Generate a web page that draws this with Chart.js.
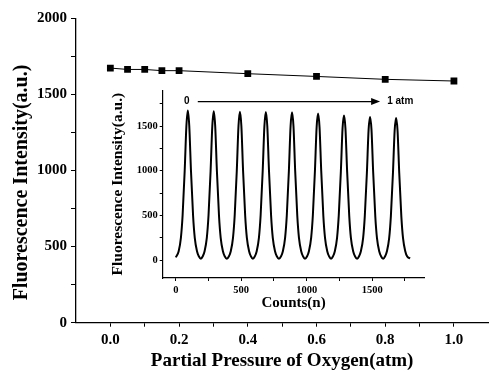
<!DOCTYPE html>
<html>
<head>
<meta charset="utf-8">
<script src="https://cdn.jsdelivr.net/npm/chart.js@4.4.0/dist/chart.umd.min.js"></script>
<style>
  html, body { margin: 0; padding: 0; background: #fff; }
  #wrap { position: relative; width: 489px; height: 372px; }
  #mainChart { position: absolute; left: 0; top: 0; }
  #insetChart { position: absolute; left: 100px; top: 82px; }
</style>
</head>
<body>
<div id="wrap">
  <canvas id="mainChart" width="489" height="372"></canvas>
  <canvas id="insetChart" width="330" height="230"></canvas>
</div>
<script>
// Main plot: intensity vs partial pressure of oxygen
const pressure = [0, 0.05, 0.1, 0.15, 0.2, 0.4, 0.6, 0.8, 1.0];
const intensity = [1673, 1664, 1664, 1656, 1656, 1636, 1618, 1599, 1588];

// Inset: intensity trace vs counts
const counts = [
  0, 22, 39, 52, 68, 81, 92, 103, 116, 132, 145, 162, 177, 192,
  205, 220, 237, 250, 266, 279, 290, 301, 314, 330, 343, 360, 375, 390,
  405, 420, 437, 450, 466, 479, 490, 501, 514, 530, 543, 560, 575, 589,
  603, 618, 635, 648, 664, 677, 688, 699, 712, 728, 741, 758, 773, 788,
  803, 818, 835, 848, 864, 877, 888, 899, 912, 928, 941, 958, 973, 987,
  1002, 1017, 1034, 1047, 1063, 1076, 1087, 1098, 1111, 1127, 1140, 1157, 1172, 1186,
  1200, 1215, 1232, 1245, 1261, 1274, 1285, 1296, 1309, 1325, 1338, 1355, 1370, 1385,
  1399, 1414, 1431, 1444, 1460, 1473, 1484, 1495, 1508, 1524, 1537, 1554, 1569, 1584,
  1598, 1613, 1630, 1643, 1659, 1672, 1683, 1694, 1707, 1723, 1736, 1753, 1768, 1790
];
const countIntensity = [
  30, 100, 250, 500, 1000, 1500, 1675, 1500, 1000, 500, 250, 100, 40, 15,
  40, 100, 250, 500, 1000, 1500, 1665, 1500, 1000, 500, 250, 100, 40, 15,
  40, 100, 250, 500, 1000, 1500, 1660, 1500, 1000, 500, 250, 100, 40, 15,
  40, 100, 250, 500, 1000, 1500, 1658, 1500, 1000, 500, 250, 100, 40, 15,
  40, 100, 250, 500, 1000, 1500, 1655, 1500, 1000, 500, 250, 100, 40, 15,
  40, 100, 250, 500, 1000, 1490, 1640, 1490, 1000, 500, 250, 100, 40, 15,
  40, 100, 250, 500, 990, 1475, 1618, 1475, 990, 495, 245, 100, 40, 15,
  40, 100, 245, 495, 980, 1460, 1602, 1460, 980, 490, 245, 100, 40, 15,
  40, 100, 245, 490, 975, 1450, 1590, 1450, 975, 490, 245, 100, 40, 20
];

// tick positions (major + minor)
const mainXTicks = [0, 0.1, 0.2, 0.3, 0.4, 0.5, 0.6, 0.7, 0.8, 0.9, 1.0];
const mainYTicks = [0, 250, 500, 750, 1000, 1250, 1500, 1750, 2000];
const insetXTicks = [0, 250, 500, 750, 1000, 1250, 1500, 1750];
const insetYTicks = [0, 250, 500, 750, 1000, 1250, 1500, 1750];

const serif = "'Liberation Serif', 'Times New Roman', serif";
const sans = "'Liberation Sans', Arial, sans-serif";

// main y title drawn by hand so it sits where the original has it
const mainTitlePlugin = {
    id: 'mainTitle',
    afterDraw(chart) {
        const ctx = chart.ctx;
        ctx.save();
        ctx.translate(21.5, 182.5);
        ctx.rotate(-Math.PI / 2);
        ctx.font = 'bold 20px ' + serif;
        ctx.fillStyle = '#000';
        ctx.textAlign = 'center';
        ctx.textBaseline = 'middle';
        ctx.fillText('Fluorescence Intensity(a.u.)', 0, 0);
        ctx.restore();
    }
};

// arrow "0 -> 1 atm" in the inset
const arrowPlugin = {
    id: 'arrow',
    afterDraw(chart) {
        const ctx = chart.ctx;
        const xs = chart.scales.x, ys = chart.scales.y;
        const y = ys.getPixelForValue(1774);
        const x0 = xs.getPixelForValue(168);
        const x1 = xs.getPixelForValue(1561);
        ctx.save();
        ctx.strokeStyle = '#000';
        ctx.fillStyle = '#000';
        ctx.lineWidth = 1.3;
        ctx.beginPath();
        ctx.moveTo(x0, y);
        ctx.lineTo(x1 - 6, y);
        ctx.stroke();
        ctx.beginPath();
        ctx.moveTo(x1, y);
        ctx.lineTo(x1 - 9, y - 3.5);
        ctx.lineTo(x1 - 9, y + 3.5);
        ctx.closePath();
        ctx.fill();
        ctx.font = 'bold 10px ' + sans;
        ctx.textBaseline = 'middle';
        ctx.textAlign = 'center';
        ctx.fillText('0', xs.getPixelForValue(84), y);
        ctx.textAlign = 'left';
        ctx.fillText('1 atm', xs.getPixelForValue(1615), y);
        ctx.restore();
    }
};

function axisGrid(len) {
    return { drawOnChartArea: false, drawTicks: true, tickLength: len, color: '#000', tickColor: '#000', tickWidth: 1 };
}

new Chart(document.getElementById('mainChart'), {
    type: 'scatter',
    data: {
        datasets: [{
            data: pressure.map((p, i) => ({ x: p, y: intensity[i] })),
            showLine: true,
            borderColor: '#000',
            borderWidth: 1,
            backgroundColor: '#000',
            pointStyle: 'rect',
            pointRadius: 4.8,
            pointBorderWidth: 0
        }]
    },
    options: {
        responsive: false,
        animation: false,
        layout: { padding: { top: 18.3, right: 0.7, left: 0, bottom: 0 }, autoPadding: false },
        plugins: { legend: { display: false }, tooltip: { enabled: false } },
        scales: {
            x: {
                type: 'linear', min: -0.1, max: 1.1,
                afterBuildTicks: s => { s.ticks = mainXTicks.map(v => ({ value: v })); },
                afterFit: s => { s.height = 49.3; },
                border: { color: '#000', width: 1.3 },
                grid: axisGrid(4),
                ticks: {
                    color: '#000', padding: 4, maxRotation: 0, autoSkip: false,
                    font: { family: serif, size: 15, weight: 'bold' },
                    callback: (v, i) => (i % 2 === 0 ? v.toFixed(1) : '')
                },
                title: {
                    display: true, text: 'Partial Pressure of Oxygen(atm)', color: '#000',
                    font: { family: serif, size: 19, weight: 'bold' }, padding: { top: 0, bottom: 0 }
                }
            },
            y: {
                min: 0, max: 2000,
                afterBuildTicks: s => { s.ticks = mainYTicks.map(v => ({ value: v })); },
                afterFit: s => { s.width = 76; },
                border: { color: '#000', width: 1.3 },
                grid: axisGrid(5),
                ticks: {
                    color: '#000', padding: 4, autoSkip: false,
                    font: { family: serif, size: 15, weight: 'bold' },
                    callback: v => (v % 500 === 0 ? String(v) : '')
                }
            }
        }
    },
    plugins: [mainTitlePlugin]
});

new Chart(document.getElementById('insetChart'), {
    type: 'scatter',
    data: {
        datasets: [{
            data: counts.map((c, i) => ({ x: c, y: countIntensity[i] })),
            showLine: true,
            borderColor: '#000',
            borderWidth: 2,
            pointRadius: 0,
            cubicInterpolationMode: 'monotone'
        }]
    },
    options: {
        responsive: false,
        animation: false,
        layout: { padding: { top: 8, right: 5.5, left: 0, bottom: 0 }, autoPadding: false },
        plugins: { legend: { display: false }, tooltip: { enabled: false } },
        scales: {
            x: {
                type: 'linear', min: -100, max: 1900,
                afterBuildTicks: s => { s.ticks = insetXTicks.map(v => ({ value: v })); },
                afterFit: s => { s.height = 34; },
                border: { color: '#000', width: 1.2 },
                grid: axisGrid(3),
                ticks: {
                    color: '#000', padding: 3, maxRotation: 0, autoSkip: false,
                    font: { family: serif, size: 10.5, weight: 'bold' },
                    callback: v => (v % 500 === 0 ? String(v) : '')
                },
                title: {
                    display: true, text: 'Counts(n)', color: '#000',
                    font: { family: serif, size: 15, weight: 'bold' }, padding: { top: 0, bottom: 0 }
                }
            },
            y: {
                min: -200, max: 1900,
                afterBuildTicks: s => { s.ticks = insetYTicks.map(v => ({ value: v })); },
                afterFit: s => { s.width = 62.7; },
                border: { color: '#000', width: 1.2 },
                grid: axisGrid(3),
                ticks: {
                    color: '#000', padding: 2, autoSkip: false,
                    font: { family: serif, size: 10.5, weight: 'bold' },
                    callback: v => (v % 500 === 0 && v <= 1500 ? String(v) : '')
                },
                title: {
                    display: true, text: 'Fluorescence Intensity(a.u.)', color: '#000',
                    font: { family: serif, size: 15.5, weight: 'bold' }, padding: { top: 8.5, bottom: 0 }
                }
            }
        }
    },
    plugins: [arrowPlugin]
});
</script>
</body>
</html>
